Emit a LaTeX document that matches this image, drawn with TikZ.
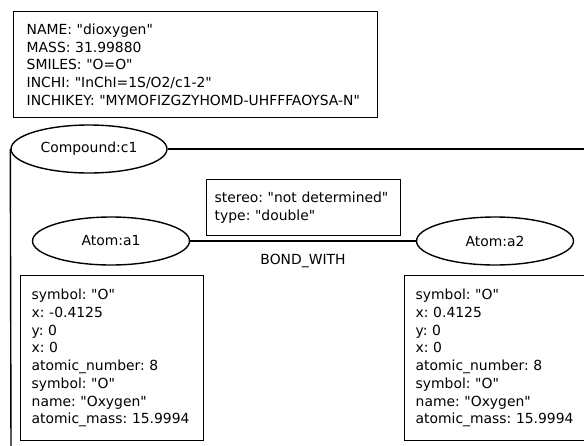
\documentclass[tikz,border=0pt]{standalone}
\usepackage{fontspec}
\setmainfont{DejaVu Sans}[Ligatures=TeXOff]
\usetikzlibrary{shapes.geometric}
\frenchspacing
\hyphenpenalty=10000
\tikzset{
  every node/.style={font=\fontsize{13.9}{17.7}\selectfont},
  propbox/.style={draw, line width=1.4pt, rectangle, anchor=north west, align=left, inner ysep=0pt},
  ent/.style={draw, line width=1.4pt, ellipse, minimum width=156pt, minimum height=48pt, inner sep=0pt},
  rel/.style={line width=1.4pt},
}
\begin{document}
\begin{tikzpicture}[x=1pt,y=-1pt]
\useasboundingbox (0,0) rectangle (584,445);
\clip (0,0) rectangle (584,445);
\node[propbox, minimum width=364pt, minimum height=106pt, inner xsep=13pt, text width=338pt] (mol) at (13,11)
 {NAME: "dioxygen"\\MASS: 31.99880\\SMILES: "O=O"\\INCHI: "InChI=1S/O2/c1-2"\\INCHIKEY: "MYMOFIZGZYHOMD-UHFFFAOYSA-N"};
\node[ent] (c1) at (89,149) {Compound:c1};
\coordinate (c1r) at (590,149);
\coordinate (c1d) at (11,450);
\draw[rel] (c1.east) -- (c1r);
\draw[rel] (c1.west) -- (c1d);
\node[propbox, minimum width=194pt, minimum height=56pt, inner xsep=8pt, text width=178pt] (bond) at (206,179)
 {stereo: "not determined"\\type: "double"};
\node[ent, minimum width=157pt] (a1) at (111,241) {Atom:a1};
\node[ent, minimum width=157pt] (a2) at (495,241) {Atom:a2};
\draw[rel] (a1.east) -- node[below=12pt, inner sep=0pt] (bw) {BOND\_WITH} (a2.west);
\node[propbox, minimum width=183pt, minimum height=165pt, inner xsep=11pt, text width=161pt] (p1) at (20,275)
 {symbol: "O"\\x: -0.4125\\y: 0\\x: 0\\atomic\_number: 8\\symbol: "O"\\name: "Oxygen"\\atomic\_mass: 15.9994};
\node[propbox, minimum width=183pt, minimum height=165pt, inner xsep=11pt, text width=161pt] (p2) at (404,275)
 {symbol: "O"\\x: 0.4125\\y: 0\\x: 0\\atomic\_number: 8\\symbol: "O"\\name: "Oxygen"\\atomic\_mass: 15.9994};
\end{tikzpicture}
\end{document}
